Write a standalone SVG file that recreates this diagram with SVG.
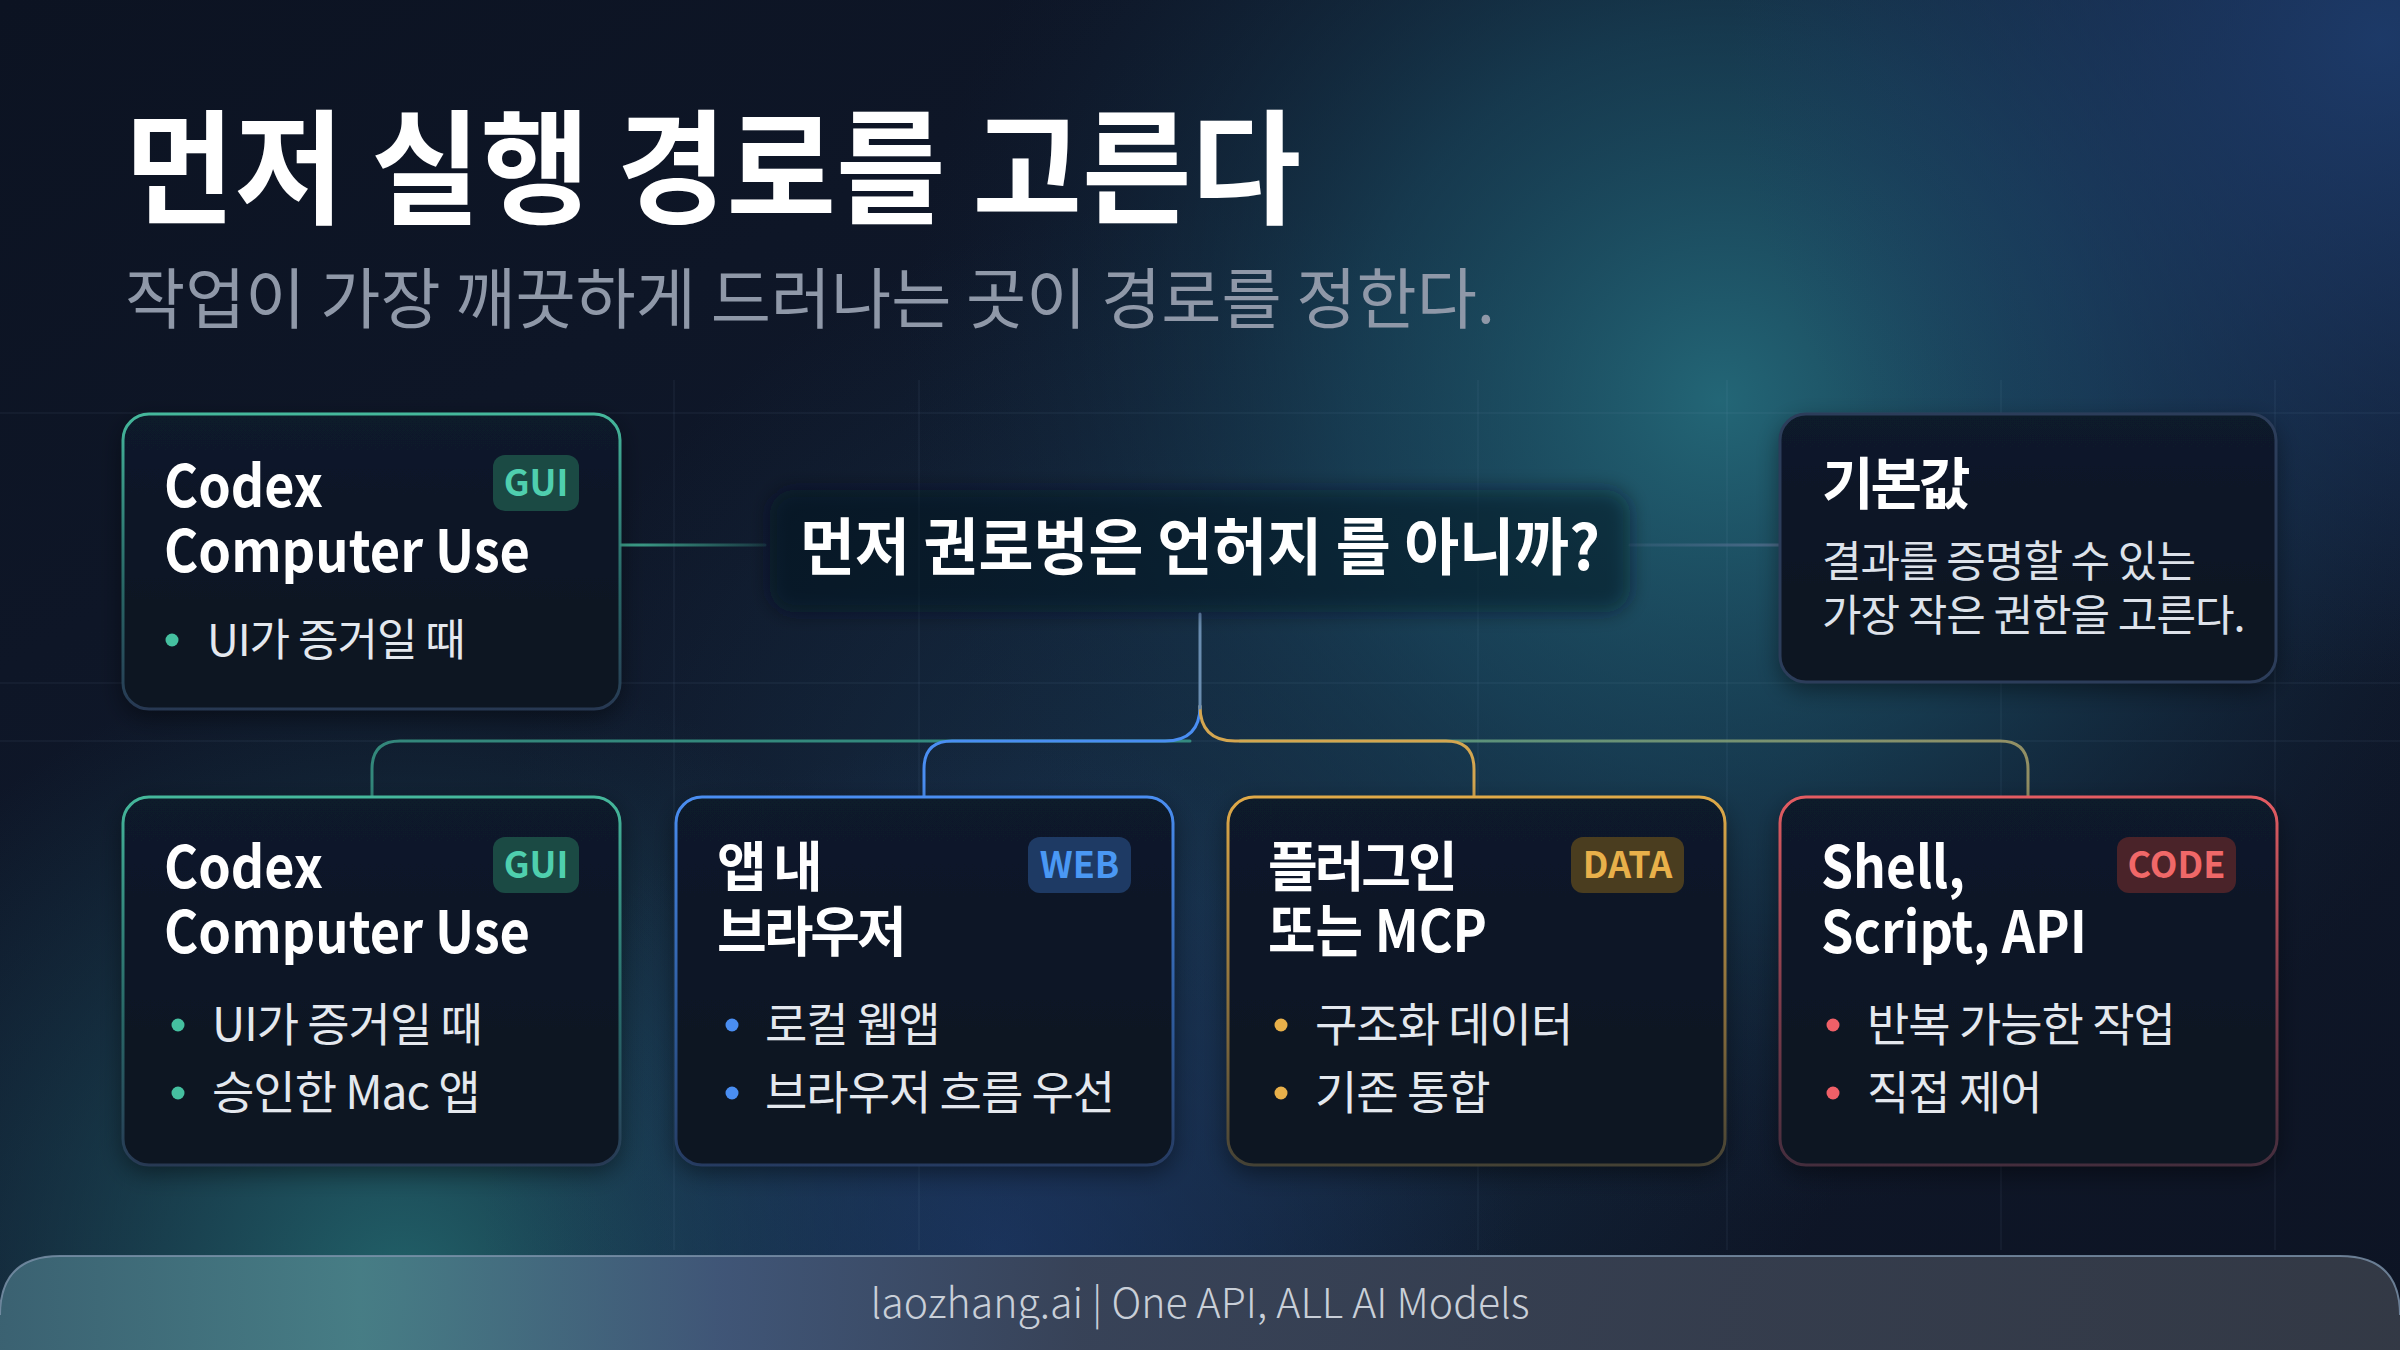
<svg xmlns="http://www.w3.org/2000/svg" width="2400" height="1350" viewBox="0 0 2400 1350">
<defs>
<style>
.t{font-family:"Noto Sans CJK KR","Noto Sans",sans-serif;}
.h1{font-size:124px;font-weight:700;fill:#ffffff;}
.sub{font-size:66px;font-weight:400;fill:#8f98a8;}
.q{font-size:62px;font-weight:700;fill:#ffffff;}
.nt{font-size:58px;font-weight:700;fill:#ffffff;}
.nk{font-size:54px;font-weight:700;fill:#ffffff;letter-spacing:-3px;}
.bl{font-size:46px;font-weight:400;fill:#e4e8ee;letter-spacing:-1px;}
.bd{font-size:43px;font-weight:400;fill:#dde2ea;letter-spacing:-1px;}
.bg{font-size:36px;font-weight:700;text-anchor:middle;}
.ft{font-size:41px;font-weight:300;fill:#c9cfd8;text-anchor:middle;}
.card{fill:url(#cardFill);filter:url(#shadow);}
.grid{stroke:#8fb0d0;stroke-opacity:0.06;stroke-width:2;}
.conn{fill:none;stroke-width:3;stroke-linecap:round;}
</style>
<linearGradient id="bgBase" x1="0" y1="0" x2="1" y2="1">
<stop offset="0" stop-color="#0c1322"/>
<stop offset="0.5" stop-color="#10192c"/>
<stop offset="1" stop-color="#0d1424"/>
</linearGradient>
<radialGradient id="glowTeal" cx="1720" cy="400" r="820" gradientUnits="userSpaceOnUse">
<stop offset="0" stop-color="#246a7a" stop-opacity="0.95"/>
<stop offset="0.45" stop-color="#1b4f66" stop-opacity="0.6"/>
<stop offset="1" stop-color="#12263e" stop-opacity="0"/>
</radialGradient>
<radialGradient id="glowTR" cx="2380" cy="40" r="650" gradientUnits="userSpaceOnUse">
<stop offset="0" stop-color="#1e3d6e" stop-opacity="0.9"/>
<stop offset="1" stop-color="#1e3d6e" stop-opacity="0"/>
</radialGradient>
<radialGradient id="glowBL" cx="400" cy="1290" r="640" gradientUnits="userSpaceOnUse">
<stop offset="0" stop-color="#256e74" stop-opacity="0.85"/>
<stop offset="1" stop-color="#1a4a5e" stop-opacity="0"/>
</radialGradient>
<radialGradient id="glowBM" cx="1000" cy="1250" r="520" gradientUnits="userSpaceOnUse">
<stop offset="0" stop-color="#1e3a6a" stop-opacity="0.7"/>
<stop offset="1" stop-color="#1e3a6a" stop-opacity="0"/>
</radialGradient>
<radialGradient id="glowMid" cx="1200" cy="900" r="700" gradientUnits="userSpaceOnUse">
<stop offset="0" stop-color="#1a3e58" stop-opacity="0.6"/>
<stop offset="1" stop-color="#1a3e58" stop-opacity="0"/>
</radialGradient>
<linearGradient id="cardFill" x1="0" y1="0" x2="0" y2="1">
<stop offset="0" stop-color="#111a2b"/>
<stop offset="1" stop-color="#0c1220"/>
</linearGradient>
<linearGradient id="sTeal" x1="0" y1="0" x2="0" y2="1">
<stop offset="0" stop-color="#45b89c"/>
<stop offset="0.6" stop-color="#2f7a76" stop-opacity="0.8"/>
<stop offset="1" stop-color="#2a3c58" stop-opacity="0.9"/>
</linearGradient>
<linearGradient id="sBlue" x1="0" y1="0" x2="0" y2="1">
<stop offset="0" stop-color="#4a8ef2"/>
<stop offset="0.6" stop-color="#3466b0" stop-opacity="0.85"/>
<stop offset="1" stop-color="#283e66" stop-opacity="0.9"/>
</linearGradient>
<linearGradient id="sGold" x1="0" y1="0" x2="0" y2="1">
<stop offset="0" stop-color="#e0aa48"/>
<stop offset="0.6" stop-color="#9a7a3e" stop-opacity="0.85"/>
<stop offset="1" stop-color="#4a4636" stop-opacity="0.9"/>
</linearGradient>
<linearGradient id="sRed" x1="0" y1="0" x2="0" y2="1">
<stop offset="0" stop-color="#e45c62"/>
<stop offset="0.6" stop-color="#8a4050" stop-opacity="0.85"/>
<stop offset="1" stop-color="#4a3040" stop-opacity="0.9"/>
</linearGradient>
<linearGradient id="lnLeft" x1="621" y1="0" x2="765" y2="0" gradientUnits="userSpaceOnUse">
<stop offset="0" stop-color="#3fa890"/>
<stop offset="1" stop-color="#3fa890" stop-opacity="0.2"/>
</linearGradient>
<linearGradient id="lnRight" x1="1630" y1="0" x2="1780" y2="0" gradientUnits="userSpaceOnUse">
<stop offset="0" stop-color="#4a6a88" stop-opacity="0.3"/>
<stop offset="1" stop-color="#4a6a88"/>
</linearGradient>
<linearGradient id="lnGreen" x1="1240" y1="0" x2="2028" y2="0" gradientUnits="userSpaceOnUse">
<stop offset="0" stop-color="#4aa08a"/>
<stop offset="1" stop-color="#a8a06a"/>
</linearGradient>
<linearGradient id="footFill" x1="0" y1="0" x2="1" y2="0">
<stop offset="0" stop-color="#3e6676"/>
<stop offset="0.15" stop-color="#4a8088"/>
<stop offset="0.3" stop-color="#43587a"/>
<stop offset="0.45" stop-color="#3a4458"/>
<stop offset="1" stop-color="#363c48"/>
</linearGradient>
<filter id="shadow" x="-10%" y="-10%" width="120%" height="130%">
<feDropShadow dx="0" dy="8" stdDeviation="12" flood-color="#000000" flood-opacity="0.45"/>
</filter>
<filter id="soft" x="-10%" y="-30%" width="120%" height="160%">
<feGaussianBlur stdDeviation="10"/>
</filter>
</defs>

<!-- background -->
<rect x="0" y="0" width="2400" height="1350" fill="url(#bgBase)"/>
<rect x="0" y="0" width="2400" height="1350" fill="url(#glowMid)"/>
<rect x="0" y="0" width="2400" height="1350" fill="url(#glowTeal)"/>
<rect x="0" y="0" width="2400" height="1350" fill="url(#glowTR)"/>
<rect x="0" y="0" width="2400" height="1350" fill="url(#glowBL)"/>
<rect x="0" y="0" width="2400" height="1350" fill="url(#glowBM)"/>

<!-- faint grid -->
<g class="grid">
<line x1="674" y1="380" x2="674" y2="1250"/>
<line x1="919" y1="380" x2="919" y2="1250"/>
<line x1="1478" y1="380" x2="1478" y2="1250"/>
<line x1="1727" y1="380" x2="1727" y2="1250"/>
<line x1="2001" y1="380" x2="2001" y2="1250"/>
<line x1="2275" y1="380" x2="2275" y2="1250"/>
<line x1="0" y1="683" x2="2400" y2="683"/>
<line x1="0" y1="741" x2="2400" y2="741"/>
<line x1="0" y1="413" x2="2400" y2="413"/>
</g>

<!-- title -->
<text class="t h1" x="125" y="214" textLength="1176" lengthAdjust="spacingAndGlyphs">먼저 실행 경로를 고른다</text>
<text class="t sub" x="125" y="323" textLength="1370" lengthAdjust="spacingAndGlyphs">작업이 가장 깨끗하게 드러나는 곳이 경로를 정한다.</text>

<!-- connectors -->
<g id="connectors">
<line class="conn" x1="621" y1="545" x2="765" y2="545" stroke="url(#lnLeft)"/>
<line class="conn" x1="1630" y1="545" x2="1780" y2="545" stroke="url(#lnRight)"/>
<path class="conn" d="M1190,741 H400 Q372,741 372,769 V796" stroke="#3a9a88" stroke-opacity="0.85"/>
<path class="conn" d="M1240,741 H2000 Q2028,741 2028,769 V796" stroke="url(#lnGreen)" stroke-opacity="0.85"/>
<path class="conn" d="M1200,706 Q1200,741 1165,741 H952 Q924,741 924,769 V796" stroke="#4a8ef2"/>
<path class="conn" d="M1200,706 Q1200,741 1235,741 H1446 Q1474,741 1474,769 V796" stroke="#d4a650"/>
<line class="conn" x1="1200" y1="614" x2="1200" y2="708" stroke="#6a8db0"/>
</g>

<!-- center question -->
<g id="question">
<rect x="770" y="490" width="860" height="122" rx="24" fill="#0a1220" fill-opacity="0.55" filter="url(#soft)"/>
<text class="t q" x="800" y="570" textLength="800" lengthAdjust="spacingAndGlyphs">먼저 권로벙은 언허지 를 아니까?</text>
</g>

<!-- top-left node -->
<g id="node-top-gui">
<rect class="card" x="123" y="414" width="497" height="295" rx="26"/>
<rect x="123" y="414" width="497" height="295" rx="26" fill="none" stroke="url(#sTeal)" stroke-width="3"/>
<text class="t nt" x="164" y="507" textLength="159" lengthAdjust="spacingAndGlyphs">Codex</text>
<text class="t nt" x="164" y="572" textLength="366" lengthAdjust="spacingAndGlyphs">Computer Use</text>
<rect x="493" y="455" width="86" height="56" rx="12" fill="#1b4a44"/>
<text class="t bg" x="536" y="496" fill="#4fcfae">GUI</text>
<circle cx="172" cy="640" r="6.5" fill="#45c0a0"/>
<text class="t bl" x="207" y="656" style="font-size:44px">UI가 증거일 때</text>
</g>

<!-- top-right node -->
<g id="node-default">
<rect class="card" x="1780" y="414" width="496" height="268" rx="26"/>
<rect x="1780" y="414" width="496" height="268" rx="26" fill="none" stroke="#2c3d5a" stroke-width="3"/>
<text class="t nk" x="1822" y="504" style="font-size:56px">기본값</text>
<text class="t bd" x="1822" y="577">결과를 증명할 수 있는</text>
<text class="t bd" x="1822" y="631">가장 작은 권한을 고른다.</text>
</g>

<!-- bottom node 1 -->
<g id="node-gui">
<rect class="card" x="123" y="797" width="497" height="368" rx="26"/>
<rect x="123" y="797" width="497" height="368" rx="26" fill="none" stroke="url(#sTeal)" stroke-width="3"/>
<text class="t nt" x="164" y="888" textLength="159" lengthAdjust="spacingAndGlyphs">Codex</text>
<text class="t nt" x="164" y="953" textLength="366" lengthAdjust="spacingAndGlyphs">Computer Use</text>
<rect x="493" y="837" width="86" height="56" rx="12" fill="#1b4a44"/>
<text class="t bg" x="536" y="878" fill="#4fcfae">GUI</text>
<circle cx="178" cy="1025" r="6.5" fill="#45c0a0"/>
<text class="t bl" x="212" y="1041">UI가 증거일 때</text>
<circle cx="178" cy="1093" r="6.5" fill="#45c0a0"/>
<text class="t bl" x="212" y="1109">승인한 Mac 앱</text>
</g>

<!-- bottom node 2 -->
<g id="node-web">
<rect class="card" x="676" y="797" width="497" height="368" rx="26"/>
<rect x="676" y="797" width="497" height="368" rx="26" fill="none" stroke="url(#sBlue)" stroke-width="3"/>
<text class="t nk" x="717" y="887">앱 내</text>
<text class="t nk" x="717" y="952">브라우저</text>
<rect x="1028" y="837" width="103" height="56" rx="12" fill="#1e3a64"/>
<text class="t bg" x="1079.5" y="878" fill="#4a98f4">WEB</text>
<circle cx="732" cy="1025" r="6.5" fill="#4a8ef2"/>
<text class="t bl" x="765" y="1041">로컬 웹앱</text>
<circle cx="732" cy="1093" r="6.5" fill="#4a8ef2"/>
<text class="t bl" x="765" y="1109">브라우저 흐름 우선</text>
</g>

<!-- bottom node 3 -->
<g id="node-data">
<rect class="card" x="1228" y="797" width="497" height="368" rx="26"/>
<rect x="1228" y="797" width="497" height="368" rx="26" fill="none" stroke="url(#sGold)" stroke-width="3"/>
<text class="t nk" x="1268" y="887">플러그인</text>
<text class="t nt" x="1268" y="952" textLength="219" lengthAdjust="spacingAndGlyphs">또는 MCP</text>
<rect x="1571" y="837" width="113" height="56" rx="12" fill="#4a3d1f"/>
<text class="t bg" x="1627.5" y="878" fill="#e8b04a">DATA</text>
<circle cx="1281" cy="1025" r="6.5" fill="#e8b04a"/>
<text class="t bl" x="1315" y="1041">구조화 데이터</text>
<circle cx="1281" cy="1093" r="6.5" fill="#e8b04a"/>
<text class="t bl" x="1315" y="1109">기존 통합</text>
</g>

<!-- bottom node 4 -->
<g id="node-code">
<rect class="card" x="1780" y="797" width="497" height="368" rx="26"/>
<rect x="1780" y="797" width="497" height="368" rx="26" fill="none" stroke="url(#sRed)" stroke-width="3"/>
<text class="t nt" x="1821" y="888" textLength="144" lengthAdjust="spacingAndGlyphs">Shell,</text>
<text class="t nt" x="1821" y="953" textLength="266" lengthAdjust="spacingAndGlyphs">Script, API</text>
<rect x="2117" y="837" width="119" height="56" rx="12" fill="#4a2329"/>
<text class="t bg" x="2176.5" y="878" fill="#f06868">CODE</text>
<circle cx="1833" cy="1025" r="6.5" fill="#f06068"/>
<text class="t bl" x="1867" y="1041">반복 가능한 작업</text>
<circle cx="1833" cy="1093" r="6.5" fill="#f06068"/>
<text class="t bl" x="1867" y="1109">직접 제어</text>
</g>

<!-- footer -->
<g id="footer">
<path d="M0,1350 V1315 Q0,1256 60,1256 H2340 Q2400,1256 2400,1315 V1350 Z" fill="url(#footFill)" fill-opacity="0.92"/>
<path d="M0,1315 Q0,1256 60,1256 H2340 Q2400,1256 2400,1315" fill="none" stroke="#7d93ab" stroke-width="2" stroke-opacity="0.8"/>
<text class="t ft" x="1200" y="1318">laozhang.ai | One API, ALL AI Models</text>
</g>
</svg>
